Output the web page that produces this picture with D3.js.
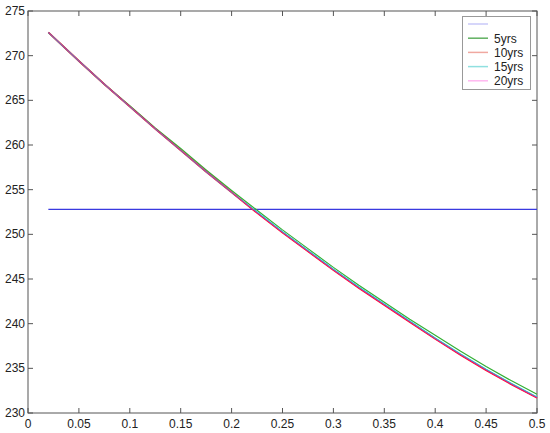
<!DOCTYPE html>
<html>
<head>
<meta charset="utf-8">
<script src="https://cdn.jsdelivr.net/npm/d3@7"></script>
<style>
  body { margin: 0; background: #fff; }
  svg { font-family: "Liberation Sans", Arial, sans-serif; }
</style>
</head>
<body>
<svg width="550" height="433"></svg>
<script>
const xs       = [0.02, 0.05, 0.075, 0.1, 0.125, 0.15, 0.175, 0.2, 0.225, 0.25, 0.275, 0.3, 0.325, 0.35, 0.375, 0.4, 0.425, 0.45, 0.475, 0.5];
const yrs10    = [272.6, 269.4, 266.8, 264.3, 261.8, 259.4, 257.0, 254.7, 252.4, 250.2, 248.1, 246.0, 244.0, 242.1, 240.2, 238.3, 236.5, 234.8, 233.2, 231.7];
const yrs5     = [272.6, 269.4, 266.8, 264.4, 261.9, 259.6, 257.2, 254.9, 252.7, 250.5, 248.4, 246.3, 244.3, 242.4, 240.5, 238.7, 236.9, 235.2, 233.6, 232.1];
const yrs15    = [272.6, 269.4, 266.8, 264.3, 261.8, 259.4, 257.0, 254.7, 252.5, 250.3, 248.2, 246.1, 244.1, 242.2, 240.3, 238.4, 236.6, 234.9, 233.3, 231.8];
const yrs20    = [272.6, 269.4, 266.8, 264.3, 261.8, 259.4, 257.0, 254.7, 252.4, 250.2, 248.1, 246.0, 244.0, 242.1, 240.2, 238.3, 236.5, 234.8, 233.2, 231.7];
const flatX    = [0.02, 0.5];
const flatY    = [252.8, 252.8];
const xTicks   = [0, 0.05, 0.1, 0.15, 0.2, 0.25, 0.3, 0.35, 0.4, 0.45, 0.5];
const yTicks   = [230, 235, 240, 245, 250, 255, 260, 265, 270, 275];
const legendLabels = ["", "5yrs", "10yrs", "15yrs", "20yrs"];

const svg = d3.select('svg');
const margin = {top: 11, right: 13, bottom: 20, left: 28};
const W = 550, H = 433;

const x = d3.scaleLinear().domain([0, 0.5]).range([margin.left, W - margin.right]);
const y = d3.scaleLinear().domain([230, 275]).range([H - margin.bottom, margin.top]);

const axisColor = '#555';

// box
svg.append('rect')
    .attr('x', x(0)).attr('y', y(275))
    .attr('width', x(0.5) - x(0)).attr('height', y(230) - y(275))
    .attr('fill', 'none').attr('stroke', axisColor).attr('stroke-width', 1);

// ticks, inward on every side
const tk = 5;
const gAx = svg.append('g').attr('stroke', axisColor).attr('stroke-width', 1);
xTicks.forEach(t => {
    gAx.append('line').attr('x1', x(t)).attr('x2', x(t)).attr('y1', y(230)).attr('y2', y(230) - tk);
    gAx.append('line').attr('x1', x(t)).attr('x2', x(t)).attr('y1', y(275)).attr('y2', y(275) + tk);
});
yTicks.forEach(t => {
    gAx.append('line').attr('x1', x(0)).attr('x2', x(0) + tk).attr('y1', y(t)).attr('y2', y(t));
    gAx.append('line').attr('x1', x(0.5)).attr('x2', x(0.5) - tk).attr('y1', y(t)).attr('y2', y(t));
});

svg.append('g').selectAll('text').data(xTicks).enter().append('text')
    .attr('x', d => x(d)).attr('y', y(230) + 15)
    .attr('text-anchor', 'middle').attr('font-size', 12).attr('fill', '#222')
    .text(d => d3.format('')(d));

svg.append('g').selectAll('text').data(yTicks).enter().append('text')
    .attr('x', x(0) - 3).attr('y', d => y(d) + 4)
    .attr('text-anchor', 'end').attr('font-size', 12).attr('fill', '#222')
    .text(d => d);

const line = d3.line().x(d => x(d[0])).y(d => y(d[1]));

const series = [
    {vals: flatY, xv: flatX, color: '#3a3ae0', w: 1.2, leg: '#c8c8f8'},
    {vals: yrs5,  xv: xs, color: '#33b033', w: 1.2, leg: '#60b060'},
    {vals: yrs10, xv: xs, color: '#ff1020', w: 1.8, leg: '#f0a8a0'},
    {vals: yrs15, xv: xs, color: '#20c8d8', w: 1.2, leg: '#90e0e0'},
    {vals: yrs20, xv: xs, color: '#f0108c', w: 0.9, leg: '#ffb8f0'}
];

series.forEach(s => {
    svg.append('path')
        .attr('d', line(s.xv.map((v, i) => [v, s.vals[i]])))
        .attr('fill', 'none').attr('stroke', s.color).attr('stroke-width', s.w);
});

// legend
const lg = svg.append('g');
lg.append('rect')
    .attr('x', 462.5).attr('y', 16.5).attr('width', 68).attr('height', 73)
    .attr('fill', '#fff').attr('stroke', '#999');
series.forEach((s, i) => {
    const yy = 24 + i * 14.2;
    lg.append('line').attr('x1', 468).attr('x2', 488).attr('y1', yy).attr('y2', yy)
        .attr('stroke', s.leg).attr('stroke-width', 1.5);
    lg.append('text').attr('x', 494).attr('y', yy + 4.5)
        .attr('font-size', 12).attr('fill', '#222').text(legendLabels[i]);
});
</script>
</body>
</html>
